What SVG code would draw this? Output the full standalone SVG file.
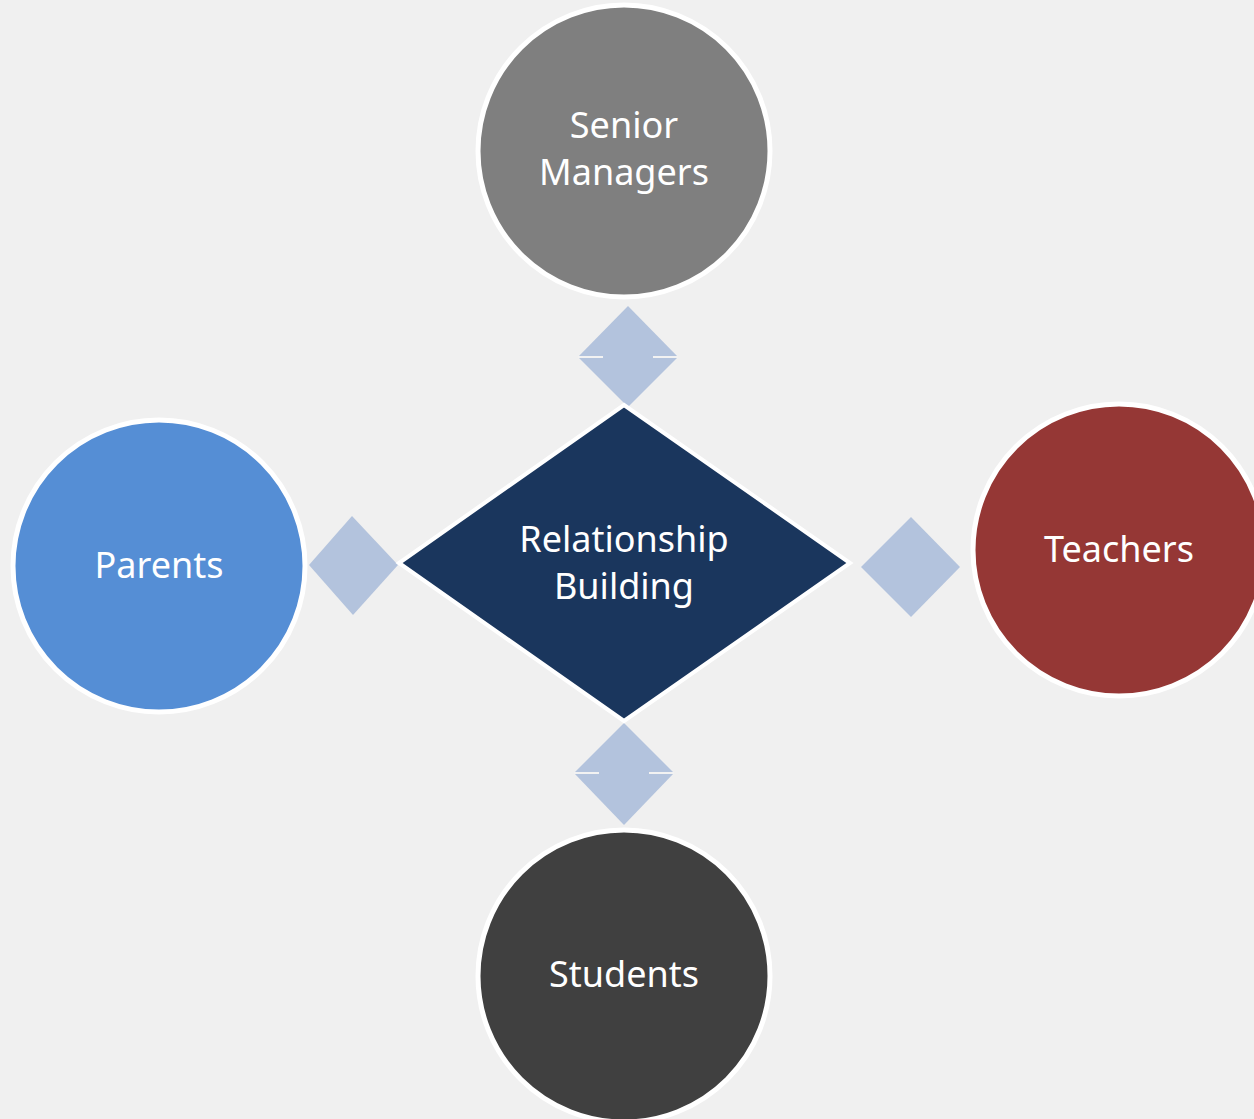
<svg xmlns="http://www.w3.org/2000/svg" width="1254" height="1119" viewBox="0 0 1254 1119">
  <style>
    .node { stroke: #FFFFFF; stroke-width: 5; }
    .lbl { font-family: "Noto Sans", "Open Sans", "Liberation Sans", sans-serif; font-size: 36px; fill: #FFFFFF; text-anchor: middle; }
    .conn { fill: #B3C3DD; }
    .tick { stroke: #F2F2F2; stroke-width: 2; }
  </style>
  <rect x="0" y="0" width="1254" height="1119" fill="#F0F0F0"/>

  <g id="connectors">
    <polygon class="conn" points="628,306 678,357 628,407 578,357"/>
    <line class="tick" x1="578" y1="357" x2="603" y2="357"/>
    <line class="tick" x1="653" y1="357" x2="678" y2="357"/>
    <polygon class="conn" points="624,723 674,773 624,825 574,773"/>
    <line class="tick" x1="574" y1="773" x2="599" y2="773"/>
    <line class="tick" x1="649" y1="773" x2="674" y2="773"/>
    <polygon class="conn" points="352,516 398,565 353,615 309,565"/>
    <polygon class="conn" points="911,517 960,567 911,617 861,567"/>
  </g>

  <g id="center">
    <polygon points="624,405 850,563 624,721 399,563" fill="#1A365D" stroke="#FFFFFF" stroke-width="4"/>
    <text class="lbl" x="624" y="552">Relationship</text>
    <text class="lbl" x="624" y="599">Building</text>
  </g>

  <g id="senior-managers">
    <circle class="node" cx="624" cy="151" r="146" fill="#7F7F7F"/>
    <text class="lbl" x="624" y="138">Senior</text>
    <text class="lbl" x="624" y="185">Managers</text>
  </g>

  <g id="teachers">
    <circle class="node" cx="1119" cy="550" r="146" fill="#953735"/>
    <text class="lbl" x="1119" y="562">Teachers</text>
  </g>

  <g id="parents">
    <circle class="node" cx="159" cy="566" r="146" fill="#558ED5"/>
    <text class="lbl" x="159" y="578">Parents</text>
  </g>

  <g id="students">
    <circle class="node" cx="624" cy="976" r="146" fill="#404040"/>
    <text class="lbl" x="624" y="987">Students</text>
  </g>
</svg>
